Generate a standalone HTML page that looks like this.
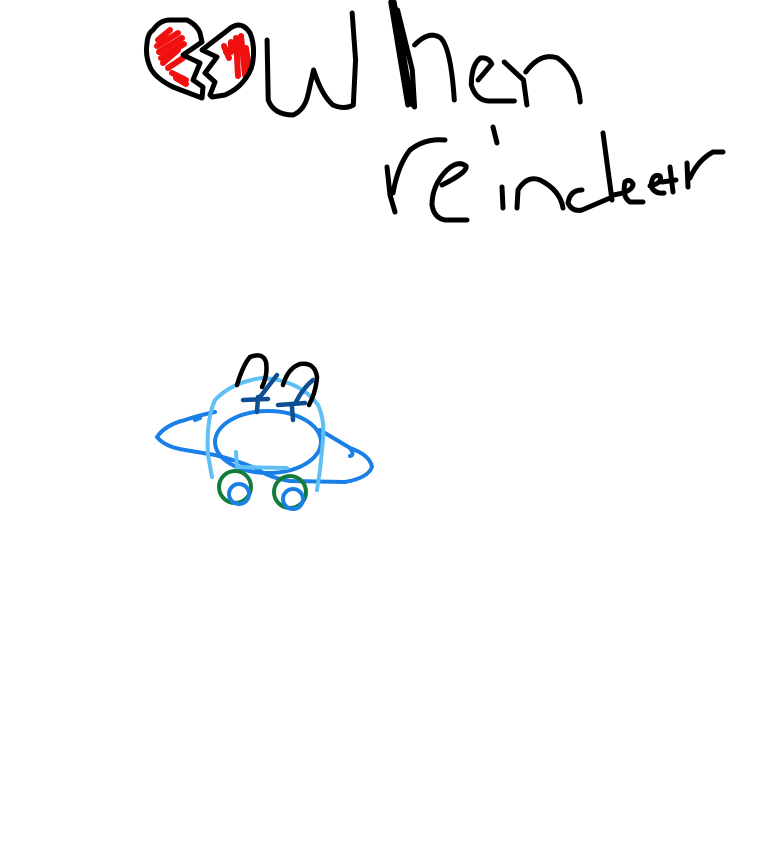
<!DOCTYPE html>
<html><head><meta charset="utf-8"><style>html,body{margin:0;background:#fff}svg{display:block}</style></head>
<body>
<svg width="768" height="866" viewBox="0 0 768 866" fill="none" stroke-linecap="round" stroke-linejoin="round">
<title>When reindeer</title>
<!-- red scribbles -->
<g stroke="#f01010" stroke-width="6">
<path d="M158,40 L170,30 M157,46 L178,33 M159,52 L182,38 M161,58 L184,44 M163,63 L178,50 M168,68 L183,58 M172,73 L186,80 M176,78 L186,84"/>
<path d="M236,38 L238,76 M231,42 L231,52 M224,46 L229,58 M241,36 L245,75 M246,48 L249,70 M226,52 L236,50"/>
</g>
<!-- heart outline -->
<g stroke="#000" stroke-width="5">
<path d="M202,98 L173,87 Q155,78 150,67 Q145,55 147,43 Q148,33 153,30 Q160,20 170,20 L187,20 Q197,25 200,33 L202,42 L183,55 L200,63 L193,80 L203,87 L202,98"/>
<path d="M212,97 L225,95 Q236,90 242,83 Q252,72 253,60 Q255,45 250,33 Q245,25 238,25 Q232,26 228,30 L202,50 L217,57 L205,73 L215,82 L210,95 Z"/>
</g>
<g transform="translate(140,0) scale(1.1346,1) translate(-140,0)">
<g stroke="#000" stroke-width="5">
<path vector-effect="non-scaling-stroke" d="M252,40 L253,100 Q258,115 275,115 Q285,110 288,95 L293,70 Q300,95 310,105 Q320,110 328,105 L330,60 L327,13"/>
<path vector-effect="non-scaling-stroke" d="M361,2 L376,105 M364,2 L380,105 M367,10 L380,70 L382,107"/>
<path vector-effect="non-scaling-stroke" d="M382,45 Q395,30 405,38 Q414,48 417,100"/>
<path vector-effect="non-scaling-stroke" d="M438,80 L450,64 Q447,57 440,58 Q432,65 432,85 Q436,100 447,101 L470,101"/>
<path vector-effect="non-scaling-stroke" d="M461,62 L478,80 L481,105 M480,72 Q493,52 508,58 Q526,72 528,102"/>
</g>
</g>
<!-- reindeer -->
<g stroke="#000" stroke-width="5">
<path d="M387,167 L390,195 L395,212 M393,193 Q398,165 410,150 Q425,138 445,140"/>
<path d="M442,185 Q468,172 466,166 Q458,160 447,170 Q432,185 432,205 Q434,218 445,220 L467,220"/>
<path d="M493,127 L497,143 M502,187 L503,208"/>
<path d="M517,208 L518,190 Q527,175 540,180 Q560,190 563,208"/>
<path d="M582,190 Q570,190 568,203 Q572,212 582,210 L610,198 M603,133 L612,200"/>
<path d="M613,195 Q633,192 633,184 Q630,178 625,182 Q622,197 630,202 L643,202"/>
<path d="M650,186 Q663,183 660,176 Q652,173 651,186 Q654,194 664,193"/>
<path d="M670,167 L673,192 M662,182 L676,180"/>
<path d="M687,163 L688,187 M690,178 Q698,160 713,152 L723,152"/>
</g>
<!-- saucer -->
<g stroke="#1a80e8" stroke-width="4">
<path d="M157,437 Q165,425 185,420 Q200,415 215,412 M157,437 Q165,447 185,450 L215,455 Q235,460 255,468 Q270,478 290,481 L345,482 Q368,478 372,467 Q370,455 350,448 L320,430 M350,448 Q355,455 350,456"/>
<ellipse cx="268" cy="442" rx="53" ry="31"/>
<path d="M195,420 L200,418"/>
</g>
<g stroke="#5ec0f5" stroke-width="4">
<path d="M212,477 L208,455 Q206,420 215,400 Q232,382 262,378 Q300,380 318,405 Q325,420 323,440 L320,470 L317,490"/>
<path d="M237,467 L287,468 M236,452 L237,466"/>
</g>
<g stroke="#000" stroke-width="4.5">
<path d="M237,385 Q243,365 250,357 Q263,352 266,362 Q268,375 262,387"/>
<path d="M283,385 Q288,368 300,364 Q315,362 317,377 Q316,392 309,405"/>
</g>
<g stroke="#0d4f93" stroke-width="4.5">
<path d="M258,397 L257,412 M243,400 L268,399 M260,397 L277,375"/>
<path d="M292,407 L293,420 M278,405 L305,403 M296,402 Q303,388 313,380"/>
</g>
<g stroke="#127d3a" stroke-width="4">
<circle cx="235" cy="487" r="16"/>
<circle cx="290" cy="492" r="16"/>
</g>
<g stroke="#1a80e8" stroke-width="4">
<circle cx="239" cy="494" r="10"/>
<circle cx="293" cy="499" r="10"/>
</g>
</svg>
</body></html>
